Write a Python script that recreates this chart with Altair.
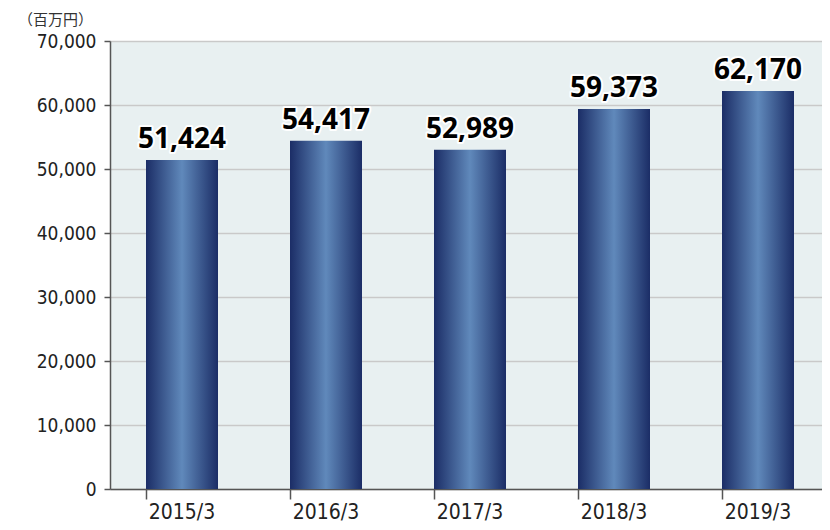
import altair as alt
import pandas as pd

years = ["2015/3", "2016/3", "2017/3", "2018/3", "2019/3"]
values = [51424, 54417, 52989, 59373, 62170]
labels = ["51,424", "54,417", "52,989", "59,373", "62,170"]
y_ticks = [0, 10000, 20000, 30000, 40000, 50000, 60000, 70000]

df = pd.DataFrame({"year": years, "value": values, "label": labels})

xscale = alt.Scale(paddingInner=0.5, paddingOuter=0.25, range=[0, 720])

x = alt.X("year:N", sort=years, title=None, scale=xscale,
          axis=alt.Axis(labelAngle=0, bandPosition=0, tickSize=10, labelPadding=2,
                        labelFontSize=21, labelColor="#222222", labelFont="DejaVu Sans Condensed",
                        domainColor="#555555", tickColor="#555555", domainWidth=1.5, tickWidth=1.5,
                        grid=False))
y = alt.Y("value:Q", title=None,
          scale=alt.Scale(domain=[0, 70000], nice=False),
          axis=alt.Axis(values=y_ticks, format=",d", tickSize=6,
                        labelPadding=8, labelFontSize=19, labelColor="#222222",
                        labelFont="DejaVu Sans Condensed",
                        domainColor="#555555", tickColor="#555555", domainWidth=1.5, tickWidth=1.5,
                        grid=True, gridColor="#c9c9c9", gridWidth=1.5))

grad = alt.Gradient(
    gradient="linear", x1=0, x2=1, y1=0, y2=0,
    stops=[alt.GradientStop(color="#1b2d66", offset=0),
           alt.GradientStop(color="#6089bb", offset=0.5),
           alt.GradientStop(color="#1b2d66", offset=1)])

bars = alt.Chart(df).mark_bar(color=grad).encode(x=x, y=y)

xt = alt.X("year:N", sort=years, scale=xscale)

halo = alt.Chart(df).mark_text(
    font="Noto Sans", fontWeight="bold", fontSize=28, baseline="alphabetic", dy=-12,
    color="black", stroke="white", strokeWidth=4, strokeJoin="round"
).encode(x=xt, y="value:Q", text="label:N")

txt = alt.Chart(df).mark_text(
    font="Noto Sans", fontWeight="bold", fontSize=28, baseline="alphabetic", dy=-12,
    color="black"
).encode(x=xt, y="value:Q", text="label:N")

unit = alt.Chart(pd.DataFrame({"t": ["（百万円）"]})).mark_text(
    font="Noto Sans CJK JP", fontSize=15, color="#333333",
    align="left", baseline="middle"
).encode(x=alt.value(-92), y=alt.value(-21), text="t:N")

chart = alt.layer(bars, halo, txt, unit).properties(
    width=712, height=448,
    autosize=alt.AutoSizeParams(type="none"),
    padding={"left": 102, "top": 33, "right": 0, "bottom": 33},
    background="white"
).configure_view(fill="#e8f0f1", stroke=None)

chart.save("out.html", embed_options={"renderer": "svg", "actions": False})
